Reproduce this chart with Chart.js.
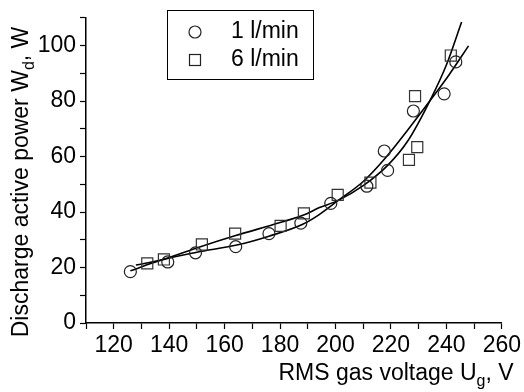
<!DOCTYPE html>
<html>
<head>
<meta charset="utf-8">
<script src="https://cdn.jsdelivr.net/npm/chart.js@4/dist/chart.umd.min.js"></script>
<style>
  html, body { margin: 0; padding: 0; background: #fff; }
  #wrap { width: 524px; height: 392px; }
</style>
</head>
<body>
<div id="wrap"><canvas id="powerChart" width="524" height="392"></canvas></div>
<script>
// measured points, 1 l/min (circles)
const circleX = [126, 139.5, 149.5, 164, 176, 187.5, 198.3, 211.3, 217.6, 218.8, 228.1, 239.2, 243.4];
const circleY = [18.5, 22, 25.3, 27.5, 32.2, 36, 43.1, 49.3, 62, 55, 76.4, 82.6, 94.1];

// measured points, 6 l/min (squares)
const squareX = [132.1, 138.1, 151.8, 163.8, 180.2, 188.6, 200.8, 212.6, 226.5, 229.5, 228.7, 241.6];
const squareY = [21.5, 22.9, 28.3, 32.2, 35, 39.5, 46.2, 50.6, 58.8, 63.4, 81.8, 96.4];

// fitted curves
const fit1X = [126, 137, 150, 164, 176, 188, 194, 201, 210, 218, 226, 234, 241, 248];
const fit1Y = [18.8, 22.6, 25.5, 28, 31.3, 35.5, 39, 44.2, 51, 59.5, 69.5, 80, 89.5, 99.9];
const fit6X = [128, 137, 151, 164, 180, 189, 194, 201, 210, 219, 226, 234, 240, 245.5];
const fit6Y = [20.9, 22.7, 27.4, 31.5, 36.2, 39.1, 41.5, 44.2, 49.5, 57, 65.5, 80, 93, 108.5];

const seriesLabels = ['1 l/min', '6 l/min'];
const xTickLabels = [120, 140, 160, 180, 200, 220, 240, 260];
const yTickLabels = [0, 20, 40, 60, 80, 100];

const FONT = '"Liberation Sans", Arial, Helvetica, sans-serif';
Chart.defaults.font.family = FONT;
Chart.defaults.font.size = 23;
Chart.defaults.color = '#000';

const toPoints = (xs, ys) => xs.map((x, i) => ({ x: x, y: ys[i] }));

// text with a subscript part: parts = [text, size, shift]
function drawParts(ctx, parts, x, y) {
    let total = 0;
    parts.forEach(p => {
        ctx.font = p[1] + 'px ' + FONT;
        total += ctx.measureText(p[0]).width;
    });
    let cx = x - total / 2;
    ctx.textAlign = 'left';
    ctx.textBaseline = 'alphabetic';
    parts.forEach(p => {
        ctx.font = p[1] + 'px ' + FONT;
        ctx.fillText(p[0], cx, y + p[2]);
        cx += ctx.measureText(p[0]).width;
    });
}

const extrasPlugin = {
    id: 'extras',
    afterDraw(chart) {
        const ctx = chart.ctx;
        ctx.save();
        ctx.fillStyle = '#000';

        // axis titles
        drawParts(ctx, [['RMS gas voltage U', 23, 0], ['g', 16, 6], [', V', 23, 0]], 396, 380);
        ctx.save();
        ctx.translate(28, 182);
        ctx.rotate(-Math.PI / 2);
        drawParts(ctx, [['Discharge active power W', 23, 0], ['d', 16, 6], [', W', 23, 0]], 0, 0);
        ctx.restore();

        // legend box
        ctx.strokeStyle = '#000';
        ctx.lineWidth = 1;
        ctx.strokeRect(167.5, 10.5, 146, 69);
        ctx.strokeStyle = '#222';
        ctx.lineWidth = 1.2;
        ctx.beginPath();
        ctx.arc(195, 32, 6, 0, Math.PI * 2);
        ctx.stroke();
        ctx.strokeRect(189.5, 54.5, 11, 11);
        ctx.font = '23px ' + FONT;
        ctx.textAlign = 'left';
        ctx.textBaseline = 'middle';
        ctx.fillText(chart.data.datasets[0].label, 231, 32);
        ctx.fillText(chart.data.datasets[1].label, 231, 60);
        ctx.restore();
    }
};

const ctx = document.getElementById('powerChart').getContext('2d');
const powerChart = new Chart(ctx, {
    type: 'scatter',
    data: {
        datasets: [
            {
                label: seriesLabels[0],
                data: toPoints(circleX, circleY),
                pointStyle: 'circle',
                pointRadius: 6,
                borderColor: '#222',
                backgroundColor: 'rgba(0,0,0,0)',
                pointBorderWidth: 1.2
            },
            {
                label: seriesLabels[1],
                data: toPoints(squareX, squareY),
                pointStyle: 'rect',
                pointRadius: 7.8,
                borderColor: '#333',
                backgroundColor: 'rgba(0,0,0,0)',
                pointBorderWidth: 1.2
            },
            {
                label: 'fit 1',
                data: toPoints(fit1X, fit1Y),
                showLine: true,
                pointRadius: 0,
                borderColor: '#000',
                borderWidth: 1.6,
                cubicInterpolationMode: 'monotone'
            },
            {
                label: 'fit 6',
                data: toPoints(fit6X, fit6Y),
                showLine: true,
                pointRadius: 0,
                borderColor: '#000',
                borderWidth: 1.6,
                cubicInterpolationMode: 'monotone'
            }
        ]
    },
    options: {
        responsive: false,
        animation: false,
        layout: { padding: { top: 10, right: 20, left: 0, bottom: 0 } },
        plugins: {
            legend: { display: false },
            tooltip: { enabled: false }
        },
        scales: {
            x: {
                type: 'linear',
                min: 110,
                max: 260,
                afterFit: s => { s.height = 69; },
                ticks: {
                    stepSize: 10,
                    padding: 3,
                    maxRotation: 0,
                    autoSkip: false,
                    callback: v => xTickLabels.includes(v) ? String(v) : ''
                },
                grid: { drawOnChartArea: false, drawTicks: true, tickLength: 6, tickColor: '#000', tickWidth: 1.2 },
                border: { display: true, color: '#000', width: 1.5 }
            },
            y: {
                type: 'linear',
                min: 0,
                max: 110,
                afterFit: s => { s.width = 86; },
                ticks: {
                    stepSize: 10,
                    padding: 4,
                    autoSkip: false,
                    callback: v => yTickLabels.includes(v) ? String(v) : ''
                },
                grid: { drawOnChartArea: false, drawTicks: true, tickLength: 6, tickColor: '#000', tickWidth: 1.2 },
                border: { display: true, color: '#000', width: 1.5 }
            }
        }
    },
    plugins: [extrasPlugin]
});
</script>
</body>
</html>
